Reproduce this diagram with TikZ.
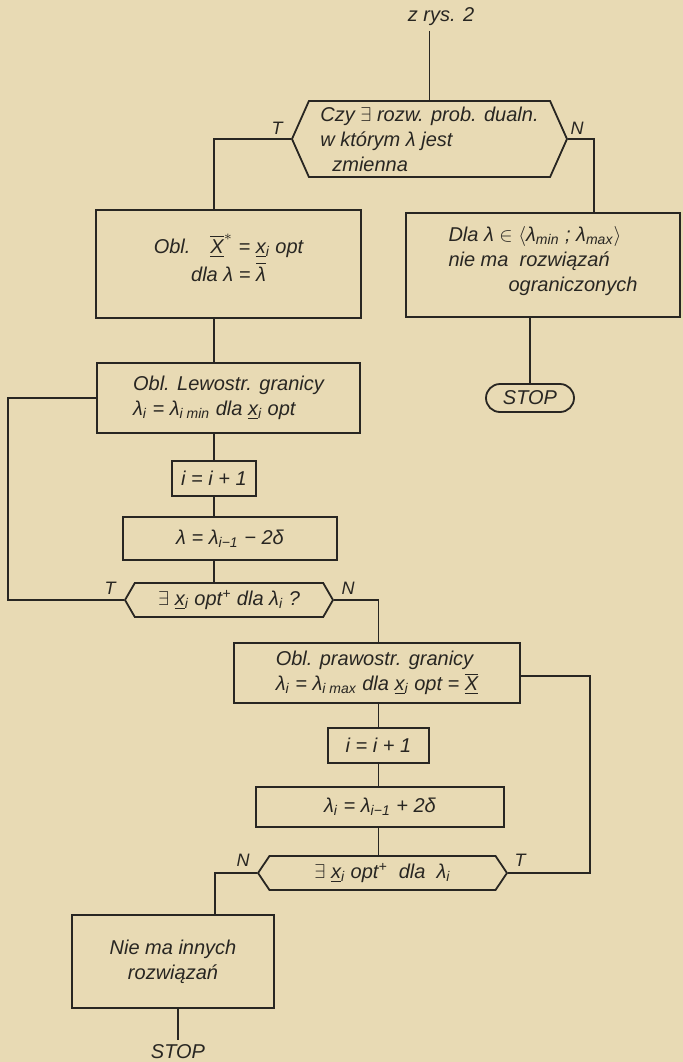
\documentclass[tikz,border=0pt]{standalone}
\usepackage{fontspec}
\setmainfont{Liberation Sans}
\usetikzlibrary{positioning,shapes.symbols,shapes.misc}
\definecolor{paper}{RGB}{232,218,180}
\definecolor{ink}{RGB}{40,38,34}
\begin{document}
\begin{tikzpicture}[x=0.5pt, y=-0.5pt, line width=0.9pt, color=ink,
  every node/.style={font=\fontsize{10}{12.5}\selectfont\itshape, inner sep=2pt},
  box/.style={draw, rectangle, align=center},
  decision/.style={draw, signal, signal to=west and east, align=left, inner sep=1pt},
  terminal/.style={draw, rounded rectangle, inner sep=1pt},
  lbl/.style={font=\fontsize{9}{10}\selectfont\itshape}]
\fill[paper] (0,0) rectangle (683,1062);
\useasboundingbox (0,0) rectangle (683,1062);
% upper part
\node (zrys) at (441,17) {z rys. 2};
\node[decision, minimum width=137.5pt, minimum height=38pt, signal pointer angle=132] (d1) at (429.5,139) {Czy $\exists$ rozw. prob. dualn.\\w którym λ jest\\\hspace*{0.6em}zmienna};
\node[box, minimum width=132.5pt, minimum height=54pt] (box1) at (228.5,264) {Obl.\quad $\underline{\overline{\mbox{X}}}^{*}$ = \underline{x}\textsubscript{i}\ opt\\[1.5pt]dla λ = $\overline{\mbox{λ}}$\\[-6pt]\mbox{}};
\node[box, minimum width=137pt, minimum height=52pt, align=left] (rbox) at (543,265) {Dla λ $\in$ $\langle$λ\textsubscript{min} ; λ\textsubscript{max}$\rangle$\\nie ma\ \ rozwiązań\\\hspace*{3em}ograniczonych\\[-6pt]\mbox{}};
\node[terminal, minimum width=46pt, minimum height=14pt] (stopa) at (530,398) {STOP};
% left loop
\node[box, minimum width=131.5pt, minimum height=35pt, align=left] (box2) at (228.5,398) {Obl. Lewostr. granicy\\λ\textsubscript{i} = λ\textsubscript{i min} dla \underline{x}\textsubscript{i} opt};
\node[box, minimum width=42pt, minimum height=17.5pt] (box3) at (214,478.5) {i = i + 1};
\node[box, minimum width=107pt, minimum height=21.5pt] (box4) at (230,538.5) {λ\ = λ\textsubscript{i−1} − 2δ};
\node[decision, minimum width=104pt, minimum height=17pt, signal pointer angle=120] (d2) at (229,600) {$\exists$ \underline{x}\textsubscript{i} opt\textsuperscript{+} dla λ\textsubscript{i} ?};
% right loop
\node[box, minimum width=143pt, minimum height=30pt, align=left] (box5) at (377,673) {Obl. prawostr. granicy\\λ\textsubscript{i} = λ\textsubscript{i max} dla \underline{x}\textsubscript{i} opt = $\underline{\overline{\mbox{X}}}$};
\node[box, minimum width=50.5pt, minimum height=17.5pt] (box6) at (378.5,745.5) {i = i + 1};
\node[box, minimum width=124pt, minimum height=20pt] (box7) at (380,807) {λ\textsubscript{i} = λ\textsubscript{i−1} + 2δ};
\node[decision, minimum width=124.5pt, minimum height=17pt, signal pointer angle=112] (d3) at (382.5,873) {$\exists$ \underline{x}\textsubscript{i} opt\textsuperscript{+}\ \ dla\ \ λ\textsubscript{i}};
\node[box, minimum width=101pt, minimum height=46.5pt] (box8) at (173,961.5) {Nie ma innych\\rozwiązań};
\node (stopb) at (178,1052) {STOP};
% branch labels
\node[lbl] (t1) at (277,128) {T}; \node[lbl] (n1) at (577,128) {N};
\node[lbl] (t2) at (110,588) {T}; \node[lbl] (n2) at (348,588) {N};
\node[lbl] (n3) at (243,860) {N}; \node[lbl] (t3) at (520,860) {T};
\coordinate (lloop) at (8,398);
\coordinate (rloop) at (590,676);
% connectors
\draw (zrys.south -| d1.north) -- (d1.north);
\draw (d1.west) -| (box1.north -| box3);
\draw (d1.east) -| ([xshift=-43.5pt]rbox.north east);
\draw (rbox.south -| stopa) -- (stopa);
\draw (box1.south -| box3) -- (box2.north -| box3);
\draw (box2.south -| box3) -- (box3);
\draw (box3) -- (box4.north -| box3);
\draw (box4.south -| box3) -- (d2.north -| box3);
\draw (box2.west) -- (lloop) |- (d2.west);
\draw (d2.east) -| (box5.north -| box6);
\draw (box5.south -| box6) -- (box6);
\draw (box6) -- (box7.north -| box6);
\draw (box7.south -| box6) -- (d3.north -| box6);
\draw (d3.east) -| (rloop) -- (box5.east |- rloop);
\draw (d3.west) -| ([xshift=21pt]box8.north);
\draw (box8.south -| stopb) -- (stopb.north);
\end{tikzpicture}
\end{document}
